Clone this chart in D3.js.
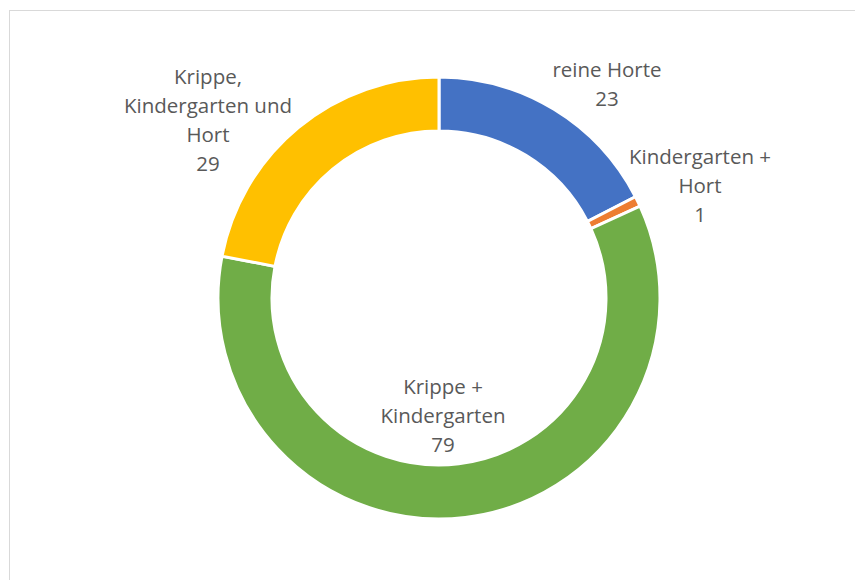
<!DOCTYPE html>
<html>
<head>
<meta charset="utf-8">
<script src="https://cdn.jsdelivr.net/npm/d3@7"></script>
<style>
  body { margin: 0; background: #fff; }
  svg { display: block; }
</style>
</head>
<body>
<div id="chart"></div>
<script>
var width  = 855;
var height = 580;

// Data
var categories = ["reine Horte", "Kindergarten + Hort", "Krippe + Kindergarten", "Krippe, Kindergarten und Hort"];
var values     = [23, 1, 79, 29];
var colors     = ["#4472c4", "#ed7d31", "#70ad47", "#ffc000"];
// label lines (as shown in the chart, line-broken)
var labelLines = [
  ["reine Horte"],
  ["Kindergarten +", "Hort"],
  ["Krippe +", "Kindergarten"],
  ["Krippe,", "Kindergarten und", "Hort"]
];
// label anchor (x of center, baseline of first line)
var labelPos = [[607, 77], [700, 164], [443, 394], [208, 84]];

var cx = 439, cy = 298;
var outerR = 221, innerR = 167;

var svg = d3.select('#chart')
            .append('svg')
            .attr('width', width)
            .attr('height', height);

// chart border
svg.append('rect')
   .attr('x', 9.5)
   .attr('y', 10.5)
   .attr('width', 860)
   .attr('height', 600)
   .attr('fill', 'none')
   .attr('stroke', '#d9d9d9')
   .attr('stroke-width', 1);

var pie = d3.pie()
            .sort(null)
            .value(function(d) { return d; });

var arc = d3.arc()
            .innerRadius(innerR)
            .outerRadius(outerR);

var g = svg.append('g')
           .attr('transform', 'translate(' + cx + ',' + cy + ')');

g.selectAll('path')
 .data(pie(values))
 .enter()
 .append('path')
 .attr('d', arc)
 .style('fill', function(d, i) { return colors[i]; })
 .style('stroke', '#fff')
 .style('stroke-width', 3);

// data labels
var lineH = 29;
var labels = svg.selectAll('.label')
   .data(categories)
   .enter()
   .append('text')
   .attr('class', 'label')
   .attr('text-anchor', 'middle')
   .style('font-family', '"Open Sans", sans-serif')
   .style('font-size', '20.5px')
   .style('fill', '#595959');

labels.each(function(d, i) {
  var t = d3.select(this);
  var lines = labelLines[i].concat([String(values[i])]);
  lines.forEach(function(s, k) {
    t.append('tspan')
     .attr('x', labelPos[i][0])
     .attr('y', labelPos[i][1] + k * lineH)
     .text(s);
  });
});
</script>
</body>
</html>
